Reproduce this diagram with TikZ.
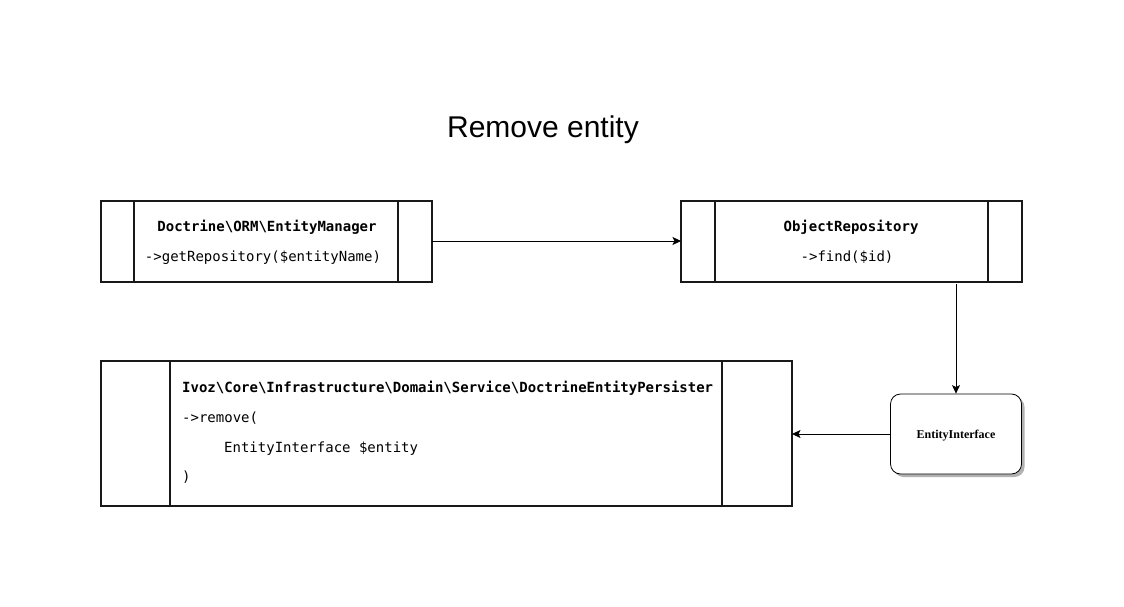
\documentclass[tikz,border=0pt]{standalone}
\usepackage{fontspec}
\setmainfont{Liberation Sans}
\newfontfamily\codefont{DejaVu Sans Mono}
\newfontfamily\serifbf{Liberation Serif}
\usetikzlibrary{arrows.meta,shadows}
\begin{document}
\begin{tikzpicture}[x=1pt,y=-1pt,
  boxline/.style={line width=1.5pt, draw=black!90},
  conn/.style={line width=0.8pt, -{Stealth[length=8.5pt,width=8pt,inset=2pt]}},
  code/.style={font=\codefont\fontsize{14}{16}\selectfont, inner sep=0pt, anchor=base},
  codebf/.style={font=\codefont\bfseries\fontsize{14}{16}\selectfont, inner sep=0pt, anchor=base},
  ifacebox/.style={draw, line width=0.8pt, rounded corners=10pt, fill=white,
    drop shadow={shadow xshift=3pt, shadow yshift=-3pt, fill=black!30, opacity=1},
    minimum width=131pt, minimum height=80pt, inner sep=0pt, text height=8pt, text depth=0pt,
    font=\serifbf\bfseries\fontsize{12}{14}\selectfont}
]
\useasboundingbox (0,0) rectangle (1124,607);
\fill[white] (0,0) rectangle (1124,607);

% title
\node[inner sep=0pt, anchor=base, font=\fontsize{30}{36}\selectfont] (title) at (543,138) {Remove entity};

% box 1
\draw[boxline] (101,201) rectangle (432,282);
\draw[boxline] (134,201) -- (134,282);
\draw[boxline] (398,201) -- (398,282);
\coordinate (b1r) at (432,241);
\node[codebf] (t1a) at (267,231) {Doctrine\textbackslash ORM\textbackslash EntityManager};
\node[code] (t1b) at (263,261) {->getRepository(\$entityName)};

% box 2
\draw[boxline] (681,201) rectangle (1022,282);
\draw[boxline] (715,201) -- (715,282);
\draw[boxline] (988,201) -- (988,282);
\coordinate (b2l) at (681,241);
\coordinate (b2b) at (956,284);
\node[codebf] (t2a) at (851,231) {ObjectRepository};
\node[code] (t2b) at (847,261) {->find(\$id)};

% box 3
\draw[boxline] (101,361) rectangle (792,506);
\draw[boxline] (170,361) -- (170,506);
\draw[boxline] (722,361) -- (722,506);
\coordinate (b3r) at (792,434);
\node[codebf, anchor=base west] (t3a) at (182,392) {Ivoz\textbackslash Core\textbackslash Infrastructure\textbackslash Domain\textbackslash Service\textbackslash DoctrineEntityPersister};
\node[code, anchor=base west] (t3b) at (182,422) {->remove(};
\node[code, anchor=base west] (t3c) at (224,452) {EntityInterface \$entity};
\node[code, anchor=base west] (t3d) at (182,481) {)};

% entity interface
\node[ifacebox] (iface) at (956,434) {EntityInterface};

% connectors
\draw[conn] (b1r) -- (b2l);
\draw[conn] (b2b) -- (b2b |- iface.north);
\draw[conn] (iface.west) -- (b3r);
\end{tikzpicture}
\end{document}
